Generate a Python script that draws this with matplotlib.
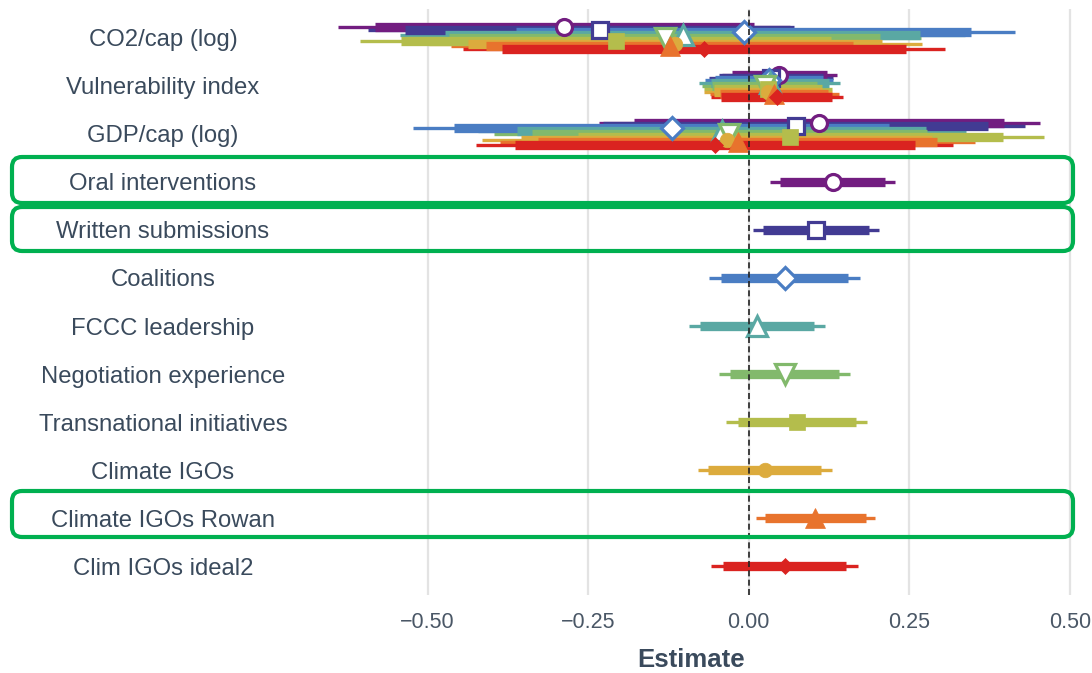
import matplotlib
matplotlib.use("Agg")
import matplotlib.pyplot as plt
from matplotlib.patches import FancyBboxPatch
import numpy as np

plt.rcParams['font.family'] = ['Liberation Sans', 'DejaVu Sans']

# ---- data ----
variables = ["CO2/cap (log)", "Vulnerability index", "GDP/cap (log)",
             "Oral interventions", "Written submissions", "Coalitions",
             "FCCC leadership", "Negotiation experience",
             "Transnational initiatives", "Climate IGOs",
             "Climate IGOs Rowan", "Clim IGOs ideal2"]
models = variables[3:]

# point estimates and 95% half-widths
co2_est = [-0.287, -0.232, -0.008, -0.103, -0.131, -0.207, -0.114, -0.123, -0.070]
co2_ci  = [0.352, 0.361, 0.422, 0.440, 0.400, 0.399, 0.384, 0.340, 0.375]
vul_est = [0.048, 0.035, 0.032, 0.033, 0.025, 0.030, 0.030, 0.040, 0.044]
vul_ci  = [0.089, 0.096, 0.100, 0.110, 0.097, 0.100, 0.100, 0.100, 0.103]
gdp_est = [0.110, 0.073, -0.120, -0.042, -0.030, 0.065, -0.034, -0.017, -0.053]
gdp_ci  = [0.343, 0.357, 0.403, 0.380, 0.366, 0.395, 0.381, 0.370, 0.371]
main_est = [0.131, 0.105, 0.056, 0.013, 0.056, 0.075, 0.025, 0.104, 0.056]
main_ci  = [0.097, 0.098, 0.118, 0.106, 0.1015, 0.1095, 0.1046, 0.093, 0.114]

xticks = [-0.5, -0.25, 0.0, 0.25, 0.5]
xticklabels = ["\u22120.50", "\u22120.25", "0.00", "0.25", "0.50"]

# ---- style ----
colors = ["#721d80", "#423b93", "#4a7dc3", "#5aa8a3", "#82b96c",
          "#b4bd4c", "#dcab3d", "#e8732d", "#da2320"]
markers = ['o', 's', 'D', '^', 'v', 's', 'o', '^', 'D']
filled = [False, False, False, False, False, True, True, True, True]
msizes = [11.5, 11.0, 11.0, 15.0, 15.0, 11.5, 10.5, 15.0, 8.0]
text_col = "#3a4a5c"

fig = plt.figure(figsize=(10.92, 6.73), dpi=100)
W, H = 1092, 673
ax = fig.add_axes([303 / W, 78 / H, 777 / W, 586 / H])
ax.set_xlim(-0.694, 0.516)
ax.set_ylim(11.604, -0.604)

n = len(models)
dodge = np.linspace(-0.233, 0.233, n)
f90 = 1.645 / 1.96

entries = []  # (model idx, y, est, half95)
for i in range(n):
    entries.append((i, 0 + dodge[i], co2_est[i], co2_ci[i]))
    entries.append((i, 1 + dodge[i], vul_est[i], vul_ci[i]))
    entries.append((i, 2 + dodge[i], gdp_est[i], gdp_ci[i]))
    entries.append((i, 3 + i, main_est[i], main_ci[i]))

for i, y, e, h in entries:
    ax.plot([e - h, e + h], [y, y], color=colors[i], lw=2.4,
            solid_capstyle='butt', zorder=2)
for i, y, e, h in entries:
    ax.plot([e - h * f90, e + h * f90], [y, y], color=colors[i], lw=6.7,
            solid_capstyle='butt', zorder=3)
for i, y, e, h in entries:
    ax.plot([e], [y], marker=markers[i], ms=msizes[i],
            mfc='white' if not filled[i] else colors[i],
            mec=colors[i], mew=2.3 if not filled[i] else 0.5,
            linestyle='none', zorder=4)

ax.axvline(0, color='#222222', lw=1.2, ls=(0, (3.6, 2.0)), zorder=5)

ax.set_xticks(xticks)
ax.set_xticklabels(xticklabels, fontsize=15.5, color="#4a5766")
ax.set_yticks(range(len(variables)))
ax.set_yticklabels(variables, fontsize=17.2, color=text_col)
for lab in ax.get_yticklabels():
    lab.set_ha('center')
ax.tick_params(axis='y', length=0, pad=(303 - 163) * 0.72)
ax.tick_params(axis='x', length=0, pad=12)
ax.grid(axis='x', color='#e3e3e3', lw=1.6, zorder=0)
ax.grid(axis='y', visible=False)
ax.set_axisbelow(True)
for s in ax.spines.values():
    s.set_visible(False)
ax.set_xlabel("Estimate", fontsize=18.5, fontweight='bold', color=text_col,
              labelpad=11)

# ---- highlight boxes (pixel layout, top-origin) ----
boxes = [(3, -25, 21), (4, -23, 21), (10, -27, 19)]
for row, dtop, dbot in boxes:
    yc = 38 + 48 * row
    top, bot = yc + dtop, yc + dbot
    x0, x1 = 12, 1073
    p = FancyBboxPatch((x0 / 100, (H - bot) / 100), (x1 - x0) / 100,
                       (bot - top) / 100,
                       boxstyle="round,pad=0,rounding_size=0.1",
                       transform=fig.dpi_scale_trans, fill=False,
                       edgecolor="#00b050", lw=3.0, zorder=10)
    fig.patches.append(p)

fig.savefig("out.png", dpi=100)
